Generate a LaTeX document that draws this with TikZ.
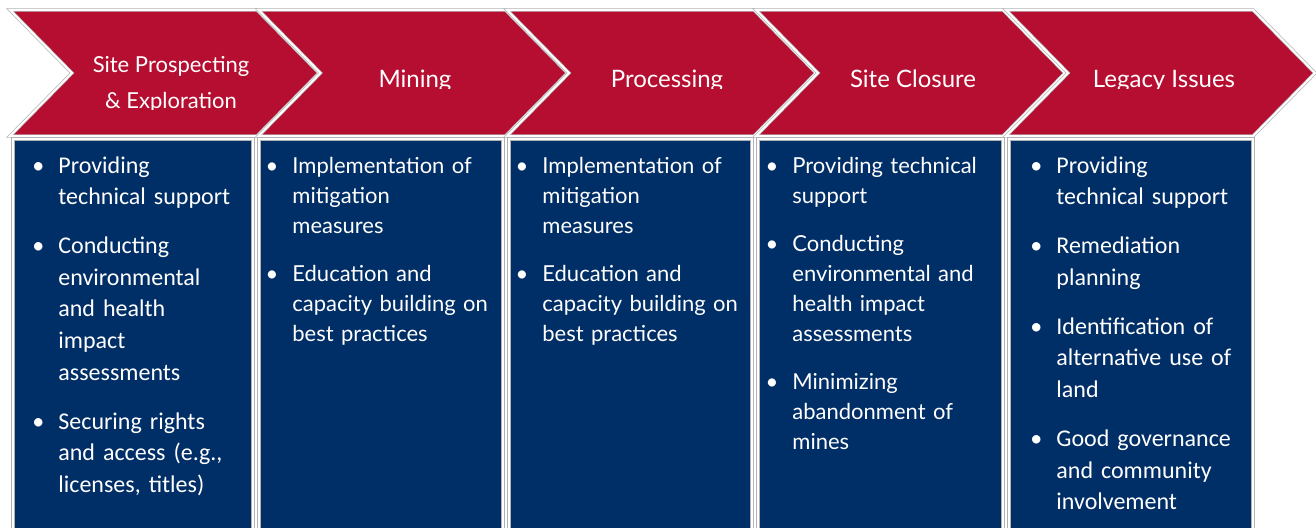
\documentclass[tikz,border=0pt]{standalone}
\usepackage{fontspec}
\setmainfont{Carlito}
\newfontfamily\gillfont{Lato}

\definecolor{chevred}{RGB}{182,14,48}
\definecolor{boxblue}{RGB}{0,46,102}

\newcommand{\fitem}{\noindent\llap{\textbullet\hspace{7pt}}}
\newcommand{\bitem}{\par\fitem}

\tikzset{
  chev/.style={fill=chevred, draw=gray!60, double=white, double distance=1pt, line width=0.35pt},
  colbox/.style={fill=boxblue, draw=gray!60, double=white, double distance=1pt, line width=0.35pt},
  head/.style={text=white, anchor=base, align=center, inner sep=0pt, font=\gillfont\fontsize{12}{18}\selectfont},
  calitext/.style={text=white, anchor=base west, text width=100pt, align=left, inner sep=0pt,
    font=\fontsize{12}{15.8}\selectfont, execute at begin node={\setlength{\parskip}{8.7pt}}},
  gilltext/.style={text=white, anchor=base west, text width=110pt, align=left, inner sep=0pt,
    font=\gillfont\fontsize{11}{15}\selectfont, execute at begin node={\setlength{\parskip}{9pt}}}
}

\begin{document}
\begin{tikzpicture}[x=0.5pt,y=-0.5pt]
\clip (0,0) rectangle (1316,527);

% chevrons
\foreach \cx in {10,258.5,507,756,1006}{
  \draw[chev] (\cx,10) -- ++(247,0) -- ++(62,63) -- ++(-62,63) -- ++(-247,0) -- ++(62,-63) -- cycle;
}

% columns
\draw[colbox] (13,139) rectangle (253,540);
\draw[colbox] (259,139) rectangle (503,540);
\draw[colbox] (509,139) rectangle (752,540);
\draw[colbox] (758,139) rectangle (1003,540);
\draw[colbox] (1009,139) rectangle (1253,540);

% headings
\begin{scope}
\clip (0,0) rectangle (1316,109.5);
\node[head, font=\gillfont\fontsize{11}{18}\selectfont] (prospect) at (171,108) {Site Prospecting\\\& Exploration};
\end{scope}
\begin{scope}
\clip (0,0) rectangle (1316,88.5);
\node[head] (mining) at (415,87) {Mining};
\node[head] (processing) at (667,87) {Processing};
\node[head] (closure) at (913,87) {Site Closure};
\node[head] (legacy) at (1164,87) {Legacy Issues};
\end{scope}

% column texts
\node[calitext] (prospecttext) at (58,173) {%
\fitem Providing\\technical support
\bitem Conducting\\environmental\\and health\\impact\\assessments
\bitem Securing rights\\and access (e.g.,\\licenses, titles)};

\node[gilltext] (miningtext) at (292,173) {%
\fitem Implementation of\\mitigation\\measures
\bitem Education and\\capacity building on\\best practices};

\node[gilltext] (processingtext) at (542,173) {%
\fitem Implementation of\\mitigation\\measures
\bitem Education and\\capacity building on\\best practices};

\node[gilltext] (closuretext) at (792,173) {%
\fitem Providing technical\\support
\bitem Conducting\\environmental and\\health impact\\assessments
\bitem Minimizing\\abandonment of\\mines};

\node[calitext] (legacytext) at (1056,173) {%
\fitem Providing\\technical support
\bitem Remediation\\planning
\bitem Identification of\\alternative use of\\land
\bitem Good governance\\and community\\involvement};
\end{tikzpicture}
\end{document}
